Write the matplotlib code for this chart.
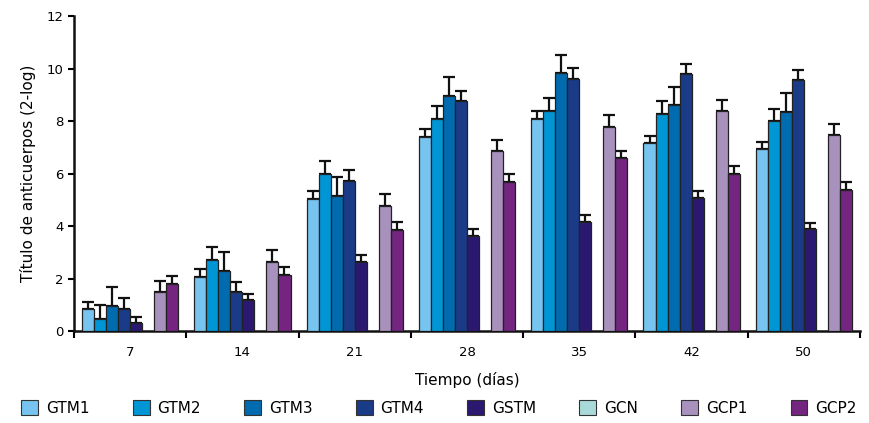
import matplotlib
matplotlib.use('Agg')
import numpy as np
import matplotlib.pyplot as plt
from matplotlib.patches import Patch

# ---------------------------------------------------------------------------
# Data
# ---------------------------------------------------------------------------
days = ['7', '14', '21', '28', '35', '42', '50']
groups = ['GTM1', 'GTM2', 'GTM3', 'GTM4', 'GSTM', 'GCN', 'GCP1', 'GCP2']

gtm1 = [0.84, 2.04, 5.03, 7.41, 8.09, 7.15, 6.92]
gtm2 = [0.47, 2.70, 5.98, 8.06, 8.38, 8.28, 7.99]
gtm3 = [0.95, 2.30, 5.14, 8.96, 9.82, 8.62, 8.33]
gtm4 = [0.85, 1.47, 5.71, 8.75, 9.60, 9.79, 9.56]
gstm = [0.32, 1.17, 2.63, 3.62, 4.16, 5.05, 3.87]
gcn  = [0, 0, 0, 0, 0, 0, 0]
gcp1 = [1.47, 2.62, 4.77, 6.86, 7.76, 8.38, 7.47]
gcp2 = [1.79, 2.15, 3.83, 5.68, 6.58, 5.97, 5.36]

# upper end of error bars
gtm1_top = [1.12, 2.35, 5.35, 7.71, 8.39, 7.44, 7.21]
gtm2_top = [0.99, 3.21, 6.48, 8.58, 8.89, 8.76, 8.46]
gtm3_top = [1.69, 3.02, 5.88, 9.69, 10.51, 9.31, 9.05]
gtm4_top = [1.27, 1.87, 6.13, 9.14, 10.02, 10.18, 9.96]
gstm_top = [0.55, 1.42, 2.90, 3.90, 4.43, 5.35, 4.13]
gcp1_top = [1.92, 3.10, 5.23, 7.28, 8.23, 8.80, 7.90]
gcp2_top = [2.11, 2.45, 4.17, 5.99, 6.87, 6.29, 5.68]

values = [gtm1, gtm2, gtm3, gtm4, gstm, gcn, gcp1, gcp2]
tops = [gtm1_top, gtm2_top, gtm3_top, gtm4_top, gstm_top, None, gcp1_top, gcp2_top]
colors = ['#76C4EF', '#0096D6', '#006BAF', '#1A3B88', '#2B1870',
          '#AAD9D9', '#A991BE', '#73257F']

# ---------------------------------------------------------------------------
# Plot
# ---------------------------------------------------------------------------
plt.rcParams['font.family'] = ['DejaVu Sans']

fig = plt.figure(figsize=(8.69, 4.23), dpi=100)
ax = fig.add_axes([0.0852, 0.2175, 0.9044, 0.7445])

x = np.arange(len(days))
bw = 0.107
offsets = (np.arange(len(groups)) - (len(groups) - 1) / 2) * bw

for i, (name, vals, top, col) in enumerate(zip(groups, values, tops, colors)):
    if top is None:
        continue  # GCN: no bars drawn
    vals = np.array(vals)
    err_up = np.array(top) - vals
    ax.bar(x + offsets[i], vals, width=bw, color=col, edgecolor='#222222',
           linewidth=0.9, zorder=3)
    ax.errorbar(x + offsets[i], vals, yerr=[np.zeros_like(vals), err_up],
                fmt='none', ecolor='#111111', elinewidth=1.6, capsize=4.3,
                capthick=1.6, zorder=2)

ax.set_xlim(-0.5, len(days) - 0.5)
ax.set_ylim(0, 12)
ax.set_yticks(range(0, 13, 2))
ax.set_xticks(x)
ax.set_xticklabels(days)
ax.set_xticks(np.arange(-0.5, len(days)), minor=True)
ax.tick_params(axis='x', which='major', length=0, pad=11, labelsize=9.5)
ax.tick_params(axis='x', which='minor', length=5, width=1.5, direction='out')
ax.tick_params(axis='y', length=4.5, width=1.5, labelsize=9.5, pad=3)

for side in ['top', 'right']:
    ax.spines[side].set_visible(False)
for side in ['left', 'bottom']:
    ax.spines[side].set_linewidth(1.8)
    ax.spines[side].set_color('#111111')

ax.set_ylabel('Título de anticuerpos (2-log)', fontsize=11, labelpad=8)
ax.set_xlabel('Tiempo (días)', fontsize=11, labelpad=9)

handles = [Patch(facecolor=c, edgecolor='#333333', linewidth=0.8) for c in colors]
fig.legend(handles, groups, loc='center', bbox_to_anchor=(0.505, 0.035),
           ncol=8, frameon=False, fontsize=11, handlelength=1.1,
           handleheight=1.1, handletextpad=0.5, columnspacing=2.85)

plt.savefig('out.png', dpi=100)
